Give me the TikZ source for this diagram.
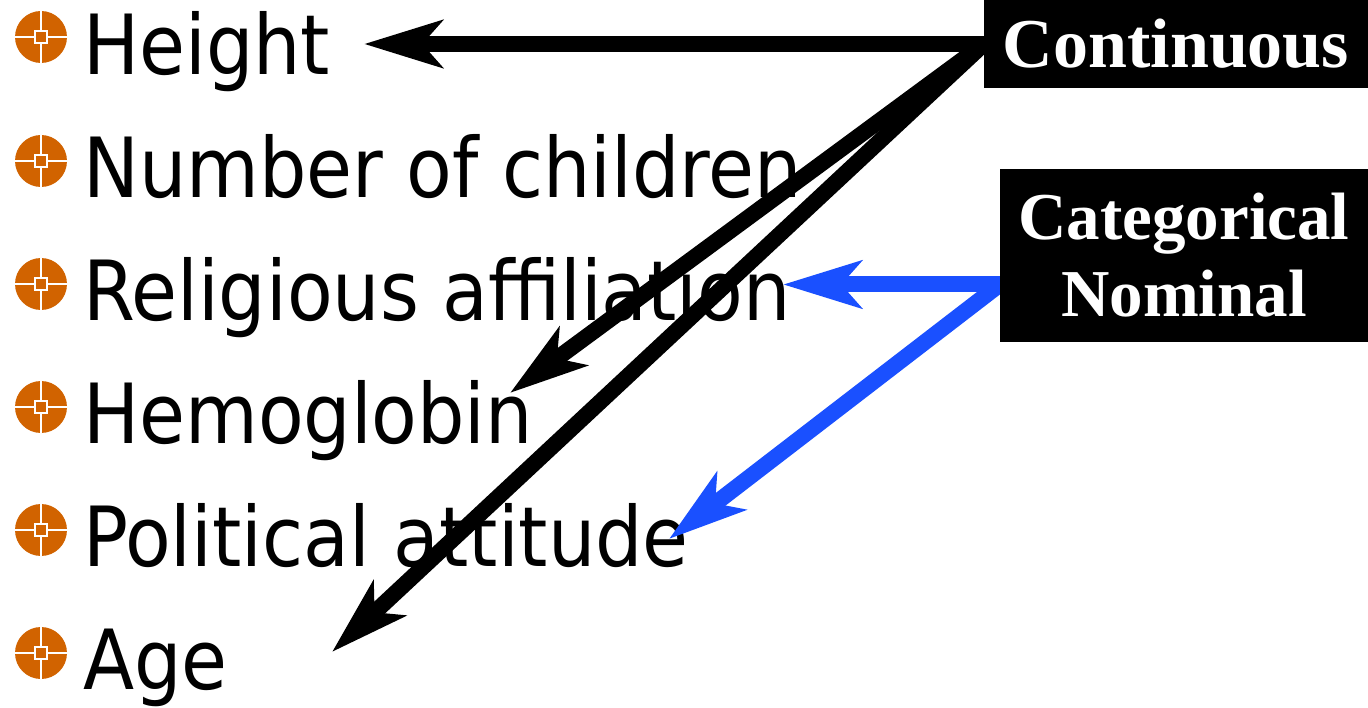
\documentclass[tikz,border=0pt]{standalone}
\usepackage{fontspec}
\newfontfamily\itemfont{DejaVu Sans Condensed}
\newfontfamily\tagfont{Liberation Serif}
\usetikzlibrary{arrows.meta}
\definecolor{bulletorange}{RGB}{209,99,0}
\definecolor{linkblue}{RGB}{26,80,255}
\pgfdeclarelayer{front}
\pgfsetlayers{main,front}

\begin{document}
\begin{tikzpicture}[x=1pt, y=-1pt,
    item/.style={anchor=base west, inner sep=0pt, font=\itemfont\fontsize{83}{90}\selectfont},
    bullet/.style={circle, fill=bulletorange, minimum size=52pt, inner sep=0pt,
        path picture={
            \draw[white, line width=1.6pt] (path picture bounding box.west) -- (path picture bounding box.east)
                (path picture bounding box.north) -- (path picture bounding box.south);
            \draw[white, line width=1.6pt, fill=bulletorange]
                ([shift={(-6pt,-6pt)}]path picture bounding box.center) rectangle ++(12pt,12pt);
        }},
    tag/.style={fill=black, text=white, inner sep=0pt, align=center,
        font=\tagfont\bfseries\fontsize{67}{77}\selectfont},
    link/.style={line width=16pt, -{Stealth[length=78pt, width=47pt, inset=20pt]}}
]
\useasboundingbox (0,0) rectangle (1368,708);

% --- Variables ---
\node[bullet] (b1) at (41,37) {};
\node[item] (height) at (83,75) {Height};
\node[bullet] (b2) at (41,161) {};
\node[item] (children) at (83,198) {Number of children};
\node[bullet] (b3) at (41,284) {};
\node[item] (religion) at (83,321) {Religious affiliation};
\node[bullet] (b4) at (41,407) {};
\node[item] (hemo) at (83,443) {Hemoglobin};
\node[bullet] (b5) at (41,530) {};
\node[item] (politics) at (83,566) {Political attitude};
\node[bullet] (b6) at (41,653) {};
\node[item] (age) at (83,689) {Age};

% --- Tipos ---
\begin{pgfonlayer}{front}
\node[tag, minimum width=384pt, minimum height=88pt, font=\tagfont\bfseries\fontsize{70}{77}\selectfont]
    (cont) at (1176,44) {Continuous};
\node[tag, minimum width=368pt, minimum height=173pt] (cat) at (1184,255.5) {Categorical\\Nominal};
\end{pgfonlayer}

% --- Puntas de flecha ---
\coordinate (tipHeight) at (364,44);
\coordinate (tipHemo) at (510,393);
\coordinate (tipAge) at (332,652);
\coordinate (catout) at ([yshift=-29pt]cat.west);
\coordinate (tipReligion) at (783,284.5);
\coordinate (tipPolitics) at (669,539);

% --- Flechas ---
\draw[link] (cont.west) -- (tipHeight);
\draw[link] (cont.west) -- (tipHemo);
\draw[link] (cont.west) -- (tipAge);
\draw[link, linkblue] (catout) -- (tipReligion);
\draw[link, linkblue] (catout) -- (tipPolitics);

\end{tikzpicture}
\end{document}
